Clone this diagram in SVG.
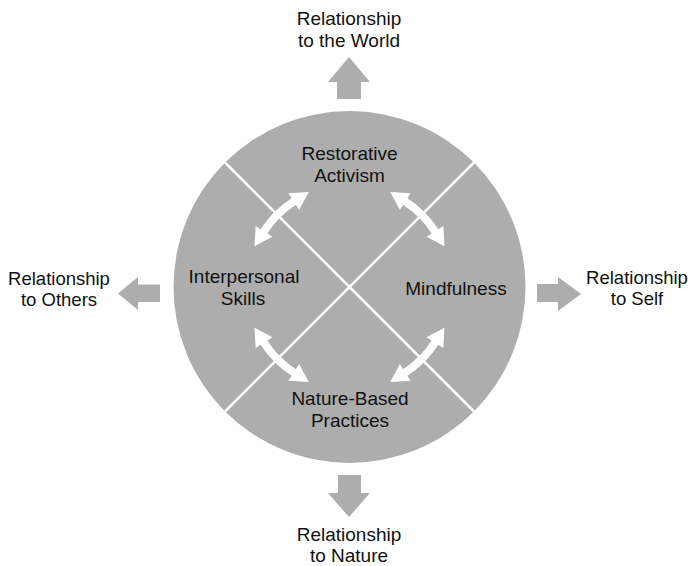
<svg xmlns="http://www.w3.org/2000/svg" width="693" height="566" viewBox="0 0 693 566">
  <style>
    .lbl { font-family: "Liberation Sans", Arial, Helvetica, sans-serif; font-size: 19px; fill: #111; text-anchor: middle; }
    .side { font-size: 18.5px; }
    .block { fill: #adadad; }
    .divider { stroke: #ffffff; stroke-width: 2.5; fill: none; }
    .link { stroke: #ffffff; stroke-width: 8; fill: none; marker-start: url(#head); marker-end: url(#head); }
  </style>
  <defs>
    <marker id="head" markerUnits="userSpaceOnUse" markerWidth="20" markerHeight="20" viewBox="0 0 17 18" refX="1" refY="9" orient="auto-start-reverse" overflow="visible">
      <path d="M0,0 L16,9 L0,18 Z" fill="#ffffff"/>
    </marker>
  </defs>

  <rect width="693" height="566" fill="#ffffff"/>

  <!-- central wheel -->
  <g id="wheel">
    <circle class="block" cx="349.5" cy="287" r="176"/>
    <line class="divider" x1="225" y1="162.5" x2="474" y2="411.5"/>
    <line class="divider" x1="474" y1="162.5" x2="225" y2="411.5"/>
  </g>

  <g id="restorative-activism">
    <text class="lbl" x="349.5" y="160">Restorative</text>
    <text class="lbl" x="349.5" y="182">Activism</text>
  </g>
  <g id="interpersonal-skills">
    <text class="lbl" x="244" y="283">Interpersonal</text>
    <text class="lbl" x="243" y="305">Skills</text>
  </g>
  <g id="mindfulness">
    <text class="lbl" x="456" y="295">Mindfulness</text>
  </g>
  <g id="nature-based-practices">
    <text class="lbl" x="350" y="405">Nature-Based</text>
    <text class="lbl" x="350" y="427">Practices</text>
  </g>

  <!-- outward block arrows and their targets -->
  <g id="relationship-world">
    <path class="block" d="M349,57 L370,82 L361,82 L361,99 L337,99 L337,82 L328,82 Z"/>
    <text class="lbl" x="349" y="25">Relationship</text>
    <text class="lbl" x="349" y="47">to the World</text>
  </g>
  <g id="relationship-nature">
    <path class="block" d="M349,517 L370,493 L361,493 L361,475 L338,475 L338,493 L328,493 Z"/>
    <text class="lbl" x="349" y="541">Relationship</text>
    <text class="lbl" x="349" y="562">to Nature</text>
  </g>
  <g id="relationship-others">
    <path class="block" d="M118,293.5 L138,277 L138,284.5 L160,284.5 L160,302 L138,302 L138,310 Z"/>
    <text class="lbl side" x="59" y="285">Relationship</text>
    <text class="lbl side" x="59" y="306">to Others</text>
  </g>
  <g id="relationship-self">
    <path class="block" d="M581,294 L558,277 L558,284 L537,284 L537,302 L558,302 L558,311 Z"/>
    <text class="lbl side" x="637" y="284">Relationship</text>
    <text class="lbl side" x="637" y="305">to Self</text>
  </g>

  <!-- two-way links between neighbouring quadrants -->
  <g id="connectors">
    <path class="link" d="M263.47,232.2 A102,102 0 0 1 294.7,200.97"/>
    <path class="link" d="M404.3,200.97 A102,102 0 0 1 435.53,232.2"/>
    <path class="link" d="M435.53,341.8 A102,102 0 0 1 404.3,373.03"/>
    <path class="link" d="M294.7,373.03 A102,102 0 0 1 263.47,341.8"/>
  </g>
</svg>
